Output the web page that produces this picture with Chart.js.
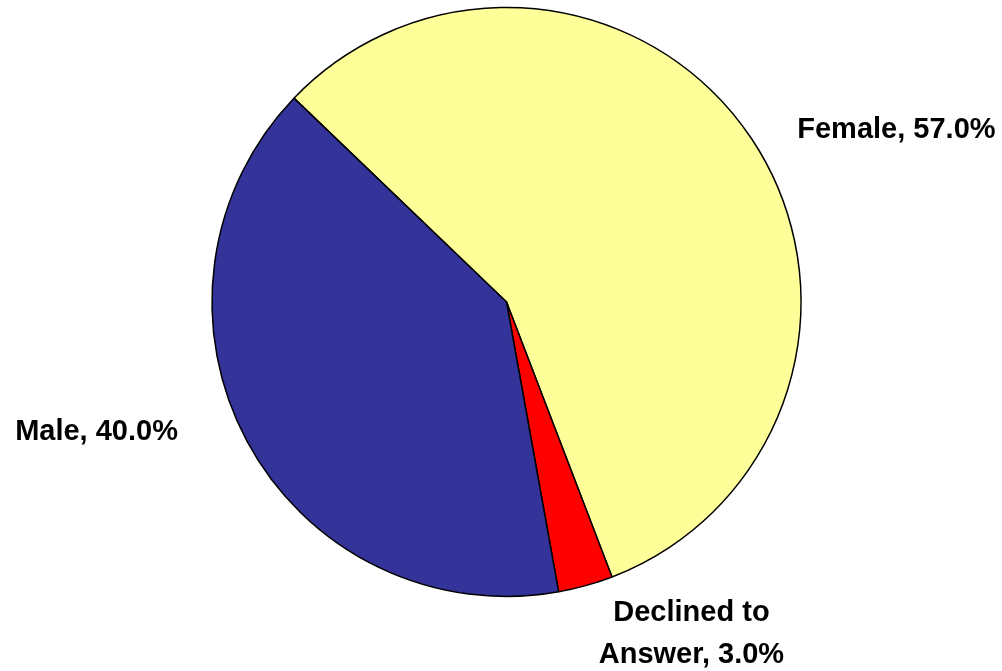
<!DOCTYPE html>
<html>
<head>
<meta charset="utf-8">
<script src="https://cdn.jsdelivr.net/npm/chart.js@4/dist/chart.umd.min.js"></script>
<style>
  html, body { margin: 0; padding: 0; background: #ffffff; }
  #wrap { width: 1002px; height: 671px; position: relative; }
</style>
</head>
<body>
<div id="wrap"><canvas id="c"></canvas></div>
<script>
const categories = ["Female", "Declined to Answer", "Male"];
const labelLines = [["Female, 57.0%"], ["Declined to", "Answer, 3.0%"], ["Male, 40.0%"]];
const values = [57.0, 3.0, 40.0];
const colors = ["#FFFF99", "#FF0000", "#333399"];

// label anchor offsets in units of the pie radius (relative to pie centre)
const labelOffsets = [[1.324, -0.584], [0.628, 1.127], [-1.392, 0.441]];

const pieLabels = {
  id: 'pieLabels',
  afterDatasetsDraw(chart) {
    const ctx = chart.ctx;
    const meta = chart.getDatasetMeta(0);
    ctx.save();
    ctx.font = 'bold 29px "Liberation Sans", Arial, sans-serif';
    ctx.fillStyle = '#000000';
    ctx.textAlign = 'center';
    ctx.textBaseline = 'middle';
    meta.data.forEach((arc, i) => {
      const r = arc.outerRadius;
      const cx = arc.x + labelOffsets[i][0] * r;
      const cy = arc.y + labelOffsets[i][1] * r;
      const lines = labelLines[i];
      const lh = 42;
      lines.forEach((t, j) => {
        ctx.fillText(t, cx, cy + (j - (lines.length - 1) / 2) * lh);
      });
    });
    ctx.restore();
  }
};

new Chart(document.getElementById('c'), {
  type: 'pie',
  data: {
    labels: categories,
    datasets: [{
      data: values,
      backgroundColor: colors,
      borderColor: '#000000',
      borderWidth: 1.5
    }]
  },
  options: {
    responsive: true,
    maintainAspectRatio: false,
    animation: false,
    rotation: -46.2,
    radius: 294.5,
    layout: { padding: { left: 11, right: 0, top: 0, bottom: 67 } },
    plugins: {
      legend: { display: false },
      tooltip: { enabled: false }
    }
  },
  plugins: [pieLabels]
});
</script>
</body>
</html>
